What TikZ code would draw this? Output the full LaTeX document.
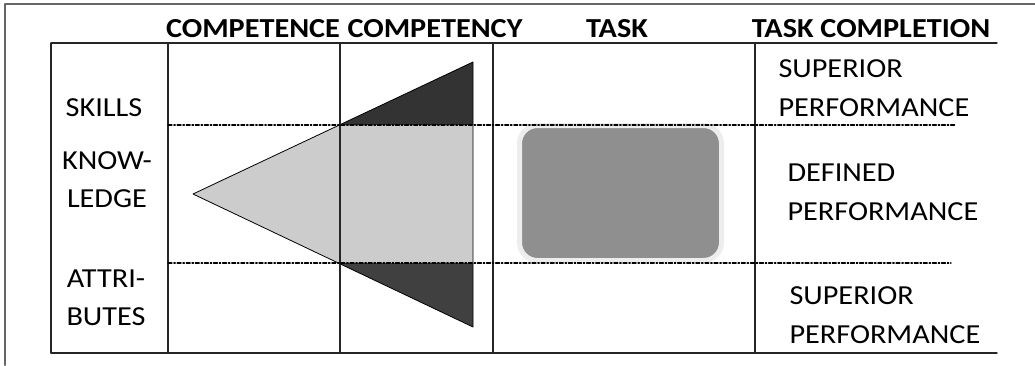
\documentclass[tikz,border=0pt]{standalone}
\usepackage{fontspec}
\setmainfont{Carlito}[FakeStretch=1.1]
\begin{document}
\begin{tikzpicture}[line cap=round,line join=round,x=1pt,y=-1pt,
  grid/.style={line width=1.3pt,draw=black!85},
  band/.style={line width=1.1pt,dash pattern=on 4pt off 1.8pt on 1.5pt off 1.8pt},
  head/.style={font=\bfseries\fontsize{27.5}{30}\selectfont,anchor=base},
  lbl/.style={font=\fontsize{27.5}{38}\selectfont,align=center},
  perf/.style={font=\fontsize{27.5}{39}\selectfont,align=left,anchor=west}]
\useasboundingbox (0,0) rectangle (1035,365);
% outer frame
\draw [line width=2pt,draw=black!60] (1035,4) -- (5,4) -- (5,365);
% competency triangle
\coordinate (apex) at (193,194);
\coordinate (tipup) at (473,62);
\coordinate (tipdown) at (473,327);
\begin{scope}
\clip (apex) -- (tipup) -- (tipdown) -- cycle;
\fill [black!20] (150,125) rectangle (480,263);
\fill [black!80] (150,40) rectangle (480,125);
\fill [black!75] (150,263) rectangle (480,340);
\end{scope}
\draw [line width=0.8pt] (apex) -- (tipup) -- (tipdown) -- cycle;
% task block
\node (taskbox) [fill=black!44,draw=black!7,line width=5pt,rounded corners=18pt,
  minimum width=202pt,minimum height=135pt,inner sep=0pt] at (620.5,193) {};
% table
\draw [grid] (51,43) -- (997,43);
\draw [grid] (51,353) -- (997,353);
\foreach \xc in {51,168,340,493,755}
  \draw [grid] (\xc,43) -- (\xc,353);
\draw [band] (168,125) -- (956,125);
\draw [band] (168,263) -- (951,263);
% headers
\node (hcompetence) [head] at (253,37) {COMPETENCE};
\node (hcompetency) [head] at (435,37) {COMPETENCY};
\node (htask) [head] at (617,37) {TASK};
\node (hcompletion) [head] at (871,37) {TASK COMPLETION};
% rows
\node (skills) [lbl] at (104,108) {SKILLS};
\node (knowledge) [lbl] at (107,180) {KNOW-\\LEDGE};
\node (attributes) [lbl] at (106,298) {ATTRI-\\BUTES};
\node (superiorup) [perf] at (775,88) {SUPERIOR\\PERFORMANCE};
\node (defined) [perf] at (784,192) {DEFINED\\PERFORMANCE};
\node (superiordown) [perf] at (786,315) {SUPERIOR\\PERFORMANCE};
\end{tikzpicture}
\end{document}
